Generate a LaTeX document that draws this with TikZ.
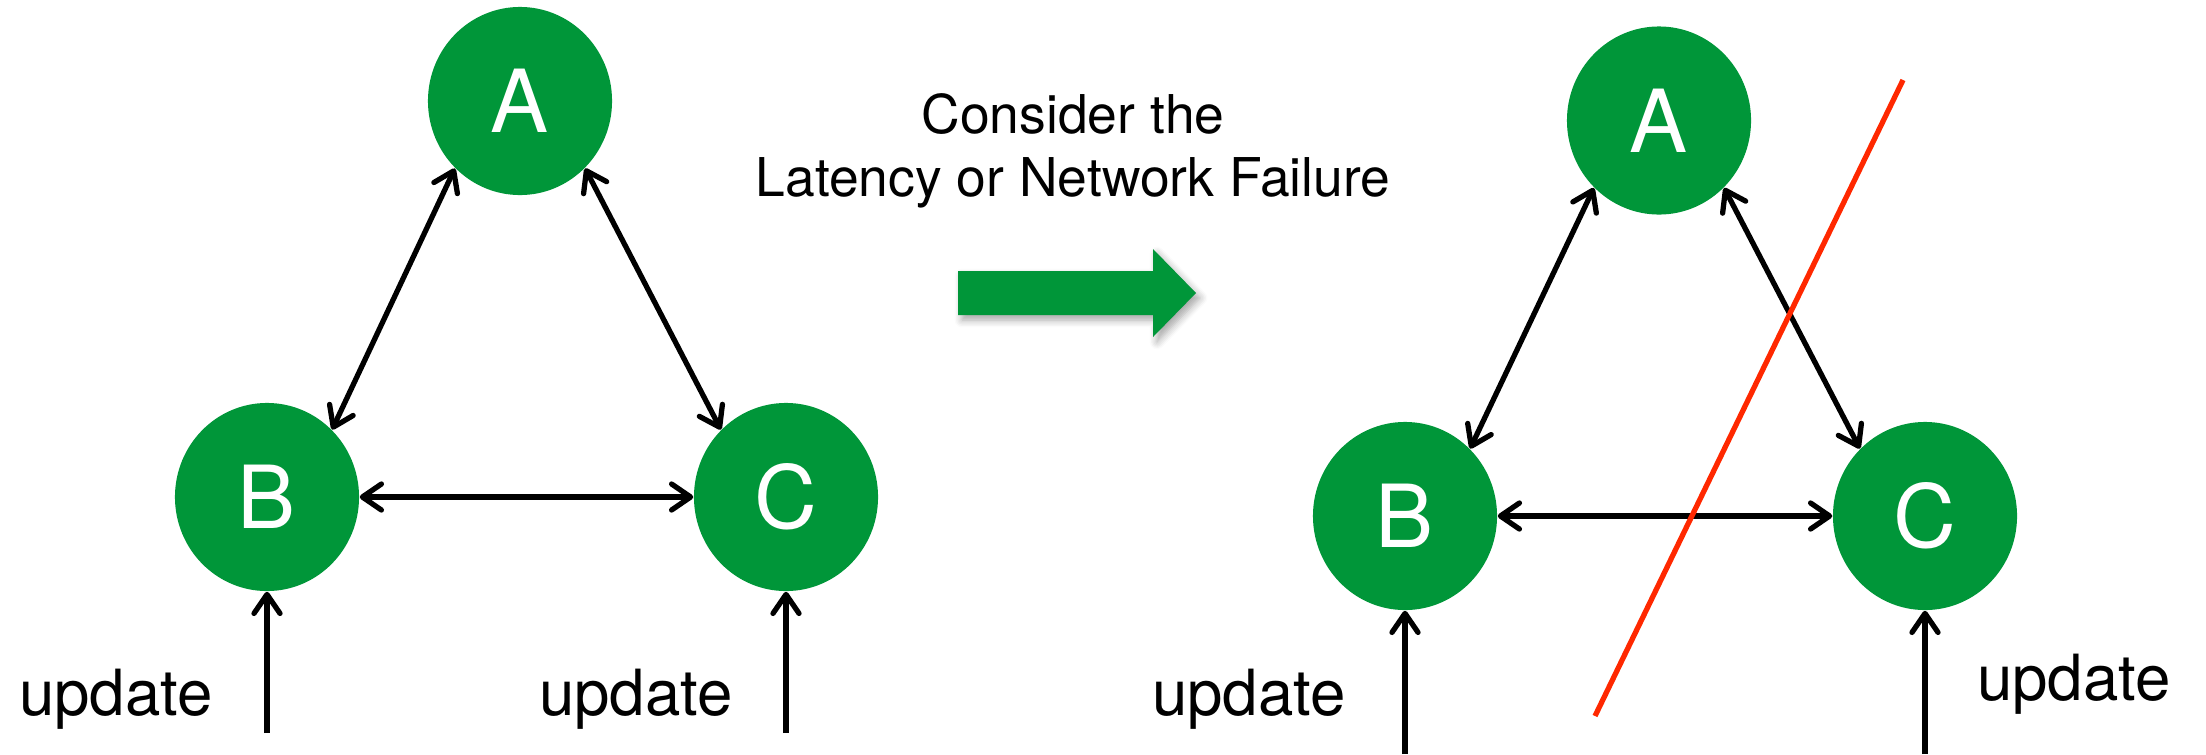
\documentclass[tikz,border=0pt]{standalone}
\usepackage{fontspec}
\setmainfont{TeX Gyre Heros}
\usetikzlibrary{arrows.meta,shapes.geometric,shadows.blur}
\definecolor{nodegreen}{RGB}{0,150,57}
\definecolor{cutred}{RGB}{255,40,0}
\begin{document}
\begin{tikzpicture}[x=0.01cm,y=-0.01cm,
  barb/.tip={Straight Barb[length=0.19cm,width=0.26cm,line cap=round,line join=round]},
  server/.style={ellipse, fill=nodegreen, draw=none, minimum width=1.84cm, minimum height=1.88cm,
    inner sep=0pt, text=white, font=\fontsize{24.75pt}{26pt}\selectfont},
  link/.style={line width=1.5pt, barb-barb},
  upd/.style={line width=1.5pt, -barb},
  lbl/.style={anchor=base, inner sep=0pt, font=\fontsize{18.1pt}{20pt}\selectfont},
  caption/.style={anchor=base, inner sep=0pt, font=\fontsize{15.2pt}{17.75pt}\selectfont},
  cut/.style={draw=cutred, line width=1.5pt}
]
\useasboundingbox (0,0) rectangle (2206,754);

% left graph
\node[server] (A1) at (520,101) {A};
\node[server] (B1) at (267,497) {B};
\node[server] (C1) at (786,497) {C};
\draw[link] (A1.226) -- (B1.46);
\draw[link] (A1.314) -- (C1.134);
\draw[link] (B1.0) -- (C1.180);
\coordinate (b1in) at (267,733);
\coordinate (c1in) at (786,733);
\draw[upd] (b1in) -- (B1.270);
\draw[upd] (c1in) -- (C1.270);
\node[lbl] (u1) at (116,715) {update};
\node[lbl] (u2) at (636,715) {update};

% caption and transition arrow
\node[caption] (cap1) at (1073,133.6) {Consider the};
\node[caption] (cap2) at (1073,196) {Latency or Network Failure};
\path[fill=nodegreen, blur shadow={shadow xshift=0.04cm, shadow yshift=-0.05cm, shadow blur steps=6, shadow opacity=35}]
  (958,271) -- (1153,271) -- (1153,249) -- (1196,293) -- (1153,337) -- (1153,315) -- (958,315) -- cycle;

% right graph
\node[server] (A2) at (1659,120.5) {A};
\node[server] (B2) at (1405,516) {B};
\node[server] (C2) at (1925,516) {C};
\draw[link] (A2.226) -- (B2.46);
\draw[link] (A2.314) -- (C2.134);
\draw[link] (B2.0) -- (C2.180);
\coordinate (b2in) at (1405,754);
\coordinate (c2in) at (1925,754);
\draw[upd] (b2in) -- (B2.270);
\draw[upd] (c2in) -- (C2.270);
\node[lbl] (u3) at (1249,715) {update};
\node[lbl] (u4) at (2074,700) {update};

% partition line
\coordinate (cutTop) at (1903,80);
\coordinate (cutBot) at (1595,716);
\draw[cut] (cutTop) -- (cutBot);
\end{tikzpicture}
\end{document}
